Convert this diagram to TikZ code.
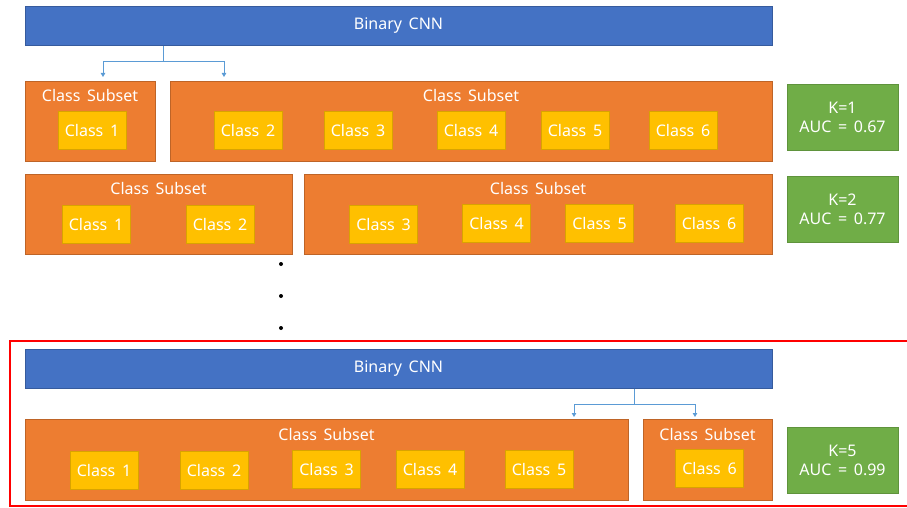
\documentclass[tikz,border=0pt]{standalone}
\usepackage{fontspec}
\setmainfont{Noto Sans}[WordSpace=1.6]
\usetikzlibrary{arrows.meta,positioning}

\definecolor{cnnblue}{HTML}{4472C4}
\definecolor{subsetorange}{HTML}{ED7D31}
\definecolor{classyellow}{HTML}{FFC000}
\definecolor{aucgreen}{HTML}{70AD47}
\definecolor{linkblue}{HTML}{5B9BD5}

\begin{document}
\begin{tikzpicture}[
    x=1pt, y=-1pt,
    cnn/.style={draw=cnnblue!80!black, fill=cnnblue, line width=0.6pt, minimum width=747pt, minimum height=39pt, inner sep=0pt, text=white, font=\fontsize{16}{18}\selectfont},
    subset/.style={draw=subsetorange!80!black, fill=subsetorange, line width=0.6pt, minimum height=80pt, inner sep=0pt},
    subtext/.style={text=white, inner sep=0pt, font=\fontsize{16}{18}\selectfont},
    cls/.style={draw=classyellow!85!black, fill=classyellow, line width=0.6pt, minimum width=68pt, minimum height=38pt, inner sep=0pt, text=white, font=\fontsize{16}{18}\selectfont},
    auc/.style={draw=aucgreen!85!black, fill=aucgreen, line width=0.6pt, minimum width=111pt, minimum height=66pt, inner sep=0pt, align=center, text=white, font=\fontsize{16}{19}\selectfont},
    split/.style={linkblue, line width=0.9pt},
    splitarrow/.style={split, -{Triangle[length=4pt, width=4.5pt]}}
]
\useasboundingbox (0,0) rectangle (907,508);

% K = 1
\node[cnn] (cnnA) at (398.5,26) {Binary CNN};
\node[subset, minimum width=130pt] (subA1) at (90,121) {};
\node[subtext] (subA1txt) at (90,96) {Class Subset};
\node[subset, minimum width=602pt] (subA2) at (471,121) {};
\node[subtext] (subA2txt) at (471,96) {Class Subset};
\node[cls] (a1) at (92,130.5) {Class 1};
\node[cls] (a2) at (248,130.5) {Class 2};
\node[cls] (a3) at (358,130.5) {Class 3};
\node[cls] (a4) at (471,130.5) {Class 4};
\node[cls] (a5) at (575,130.5) {Class 5};
\node[cls] (a6) at (683,130.5) {Class 6};
\node[auc] (aucA) at (842.5,117.5) {K=1\\AUC = 0.67};

\coordinate (forkA) at (163,61);
\coordinate (endA1) at (103,77);
\coordinate (endA2) at (224,77);
\draw[split] (cnnA.south -| forkA) -- (forkA);
\draw[splitarrow] (forkA) -| (endA1);
\draw[splitarrow] (forkA) -| (endA2);

% K = 2
\node[subset, minimum width=267pt] (subB1) at (158.5,214) {};
\node[subtext] (subB1txt) at (158.5,188.5) {Class Subset};
\node[subset, minimum width=468pt] (subB2) at (538,214) {};
\node[subtext] (subB2txt) at (538,188.5) {Class Subset};
\node[cls] (b1) at (96,224.5) {Class 1};
\node[cls] (b2) at (220,224.5) {Class 2};
\node[cls] (b3) at (383.5,224.5) {Class 3};
\node[cls] (b4) at (496.5,223.5) {Class 4};
\node[cls] (b5) at (599.5,223.5) {Class 5};
\node[cls] (b6) at (709,223.5) {Class 6};
\node[auc] (aucB) at (842.5,209) {K=2\\AUC = 0.77};

% dots
\foreach \yy in {264,296,328}
    \fill (281,\yy) circle (2pt);

% K = 5
\draw[red, line width=2pt] (10,341) rectangle (915,506);
\node[cnn] (cnnC) at (398.5,369) {Binary CNN};
\node[subset, minimum width=603pt, minimum height=81pt] (subC1) at (326.5,459.5) {};
\node[subtext] (subC1txt) at (326.5,434) {Class Subset};
\node[subset, minimum width=129pt, minimum height=81pt] (subC2) at (707.5,459.5) {};
\node[subtext] (subC2txt) at (707.5,434) {Class Subset};
\node[cls] (c1) at (104,470) {Class 1};
\node[cls] (c2) at (214,470) {Class 2};
\node[cls] (c3) at (326.5,469) {Class 3};
\node[cls] (c4) at (430,469) {Class 4};
\node[cls] (c5) at (539,469) {Class 5};
\node[cls] (c6) at (709.5,468.5) {Class 6};
\node[auc] (aucC) at (842.5,460) {K=5\\AUC = 0.99};

\coordinate (forkC) at (634,404);
\coordinate (endC1) at (574,417);
\coordinate (endC2) at (695,417);
\draw[split] (cnnC.south -| forkC) -- (forkC);
\draw[splitarrow] (forkC) -| (endC1);
\draw[splitarrow] (forkC) -| (endC2);

\end{tikzpicture}
\end{document}
